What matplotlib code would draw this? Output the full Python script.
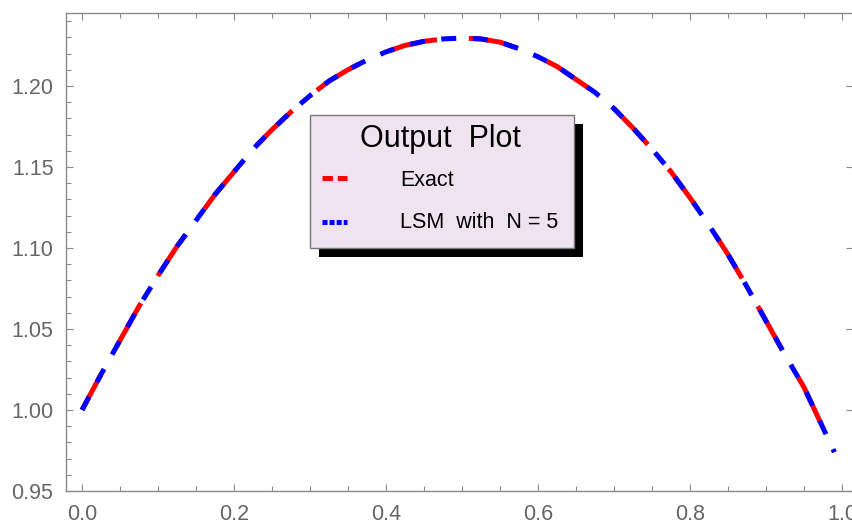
import matplotlib
matplotlib.use("Agg")
import matplotlib.pyplot as plt
from matplotlib.patches import Rectangle
from matplotlib.lines import Line2D
from matplotlib.ticker import MultipleLocator, FormatStrFormatter

plt.rcParams['font.family'] = ['Liberation Sans', 'DejaVu Sans']
plt.rcParams['lines.scale_dashes'] = False

# values
x_vals = [0.000, 0.025, 0.050, 0.075, 0.100, 0.125, 0.150, 0.175, 0.200, 0.225,
          0.250, 0.275, 0.300, 0.325, 0.350, 0.375, 0.400, 0.425, 0.450, 0.475,
          0.500, 0.525, 0.550, 0.575, 0.600, 0.625, 0.650, 0.675, 0.700, 0.725,
          0.750, 0.775, 0.800, 0.825, 0.850, 0.875, 0.900, 0.925, 0.950, 0.975,
          0.990]
exact_vals = [1.000, 1.022, 1.043, 1.064, 1.083, 1.101, 1.117, 1.133, 1.147, 1.161,
              1.173, 1.184, 1.194, 1.203, 1.210, 1.216, 1.221, 1.225, 1.2275, 1.229,
              1.2295, 1.229, 1.227, 1.223, 1.218, 1.212, 1.204, 1.196, 1.186, 1.174,
              1.161, 1.147, 1.131, 1.114, 1.096, 1.076, 1.055, 1.034, 1.014, 0.989,
              0.974]
lsm_vals = list(exact_vals)

legend_title = "Output  Plot"
legend_labels = ["Exact", "LSM  with  N = 5"]

fig = plt.figure(figsize=(8.53, 5.23), dpi=100)
ax = fig.add_axes([66/853, 32/523, 787/853, 478/523])

ax.plot(x_vals, exact_vals, color='red', lw=3.6, linestyle=(7.2, (36, 23)),
        dash_capstyle='butt', solid_capstyle='butt')
ax.plot(x_vals, lsm_vals, color='blue', lw=3.6, linestyle=(0, (10.8, 11.9)),
        dash_capstyle='butt', solid_capstyle='butt')

ax.set_xlim(-0.0211, 1.0145)
ax.set_ylim(0.95, 1.245)

ax.xaxis.set_major_locator(MultipleLocator(0.2))
ax.xaxis.set_minor_locator(MultipleLocator(0.05))
ax.yaxis.set_major_locator(MultipleLocator(0.05))
ax.yaxis.set_minor_locator(MultipleLocator(0.01))
ax.xaxis.set_major_formatter(FormatStrFormatter('%.1f'))
ax.yaxis.set_major_formatter(FormatStrFormatter('%.2f'))

gray = '#8a8a8a'
for s in ax.spines.values():
    s.set_color(gray)
    s.set_linewidth(1.0)
ax.spines['right'].set_visible(False)
ax.tick_params(which='both', direction='in', colors=gray, labelcolor='#666666',
               labelsize=15.5, top=True, right=True, width=0.8)
ax.tick_params(which='major', length=5, pad=9)
ax.tick_params(which='minor', length=3.5)
ax.tick_params(which='minor', right=False)

# legend box with drop shadow
bx, by, bw, bh = 310, 523 - 248, 264, 133
fig.patches.append(Rectangle(((bx + 9) / 853, (by - 9) / 523), bw / 853, bh / 523,
                             transform=fig.transFigure, facecolor='black',
                             edgecolor='none', zorder=5))
fig.patches.append(Rectangle((bx / 853, by / 523), bw / 853, bh / 523,
                             transform=fig.transFigure, facecolor='#efe3ef',
                             edgecolor='#777777', lw=1.0, zorder=6))
fig.text(440 / 853, (523 - 139) / 523, legend_title, ha='center', va='center',
         fontsize=22, color='black', zorder=7)
fig.text(400 / 853, (523 - 180) / 523, legend_labels[0], ha='left', va='center',
         fontsize=15.5, color='black', zorder=7)
fig.text(400 / 853, (523 - 223) / 523, legend_labels[1], ha='left', va='center',
         fontsize=15.5, color='black', zorder=7)
fig.lines.append(Line2D([322 / 853, 347 / 853], [(523 - 178) / 523] * 2,
                        transform=fig.transFigure, color='red', lw=3.6,
                        dashes=(7.5, 3.5), dash_capstyle='butt', zorder=7))
fig.lines.append(Line2D([322 / 853, 347 / 853], [(523 - 222) / 523] * 2,
                        transform=fig.transFigure, color='blue', lw=3.6,
                        dashes=(3.6, 1.5), dash_capstyle='butt', zorder=7))

fig.savefig('out.png', dpi=100)
